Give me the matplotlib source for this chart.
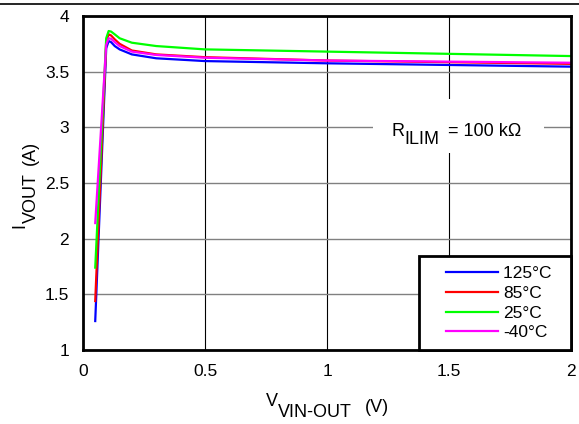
import matplotlib.pyplot as plt
from matplotlib.lines import Line2D
from matplotlib.patches import Rectangle
from matplotlib.legend_handler import HandlerLine2D

plt.rcParams['font.family'] = ['Liberation Sans', 'DejaVu Sans']

# current limit vs input-output voltage, one curve per temperature
v_drop = [0.05, 0.095, 0.105, 0.115, 0.13, 0.15, 0.2, 0.3, 0.5, 1.0, 1.5, 2.0]
i_125 = [1.26, 3.71, 3.775, 3.765, 3.73, 3.70, 3.655, 3.62, 3.595, 3.575, 3.56, 3.545]
i_85 = [1.44, 3.77, 3.835, 3.825, 3.79, 3.75, 3.69, 3.655, 3.63, 3.60, 3.585, 3.57]
i_25 = [1.74, 3.80, 3.865, 3.86, 3.835, 3.80, 3.76, 3.73, 3.70, 3.68, 3.66, 3.64]
i_m40 = [2.14, 3.74, 3.80, 3.795, 3.765, 3.73, 3.68, 3.65, 3.625, 3.60, 3.59, 3.58]

fig = plt.figure(figsize=(5.79, 4.24), dpi=100)
ax = fig.add_axes([0.1434, 0.1745, 0.8428, 0.7878])

ax.plot(v_drop, i_125, color='#0000ff', lw=1.6, label='125°C  ')
ax.plot(v_drop, i_85, color='#ff0000', lw=1.6, label='85°C')
ax.plot(v_drop, i_25, color='#00ff00', lw=1.6, label='25°C')
ax.plot(v_drop, i_m40, color='#ff00ff', lw=1.6, label='-40°C')

ax.set_xlim(0, 2)
ax.set_ylim(1, 4)
ax.set_xticks([0, 0.5, 1, 1.5, 2])
ax.set_xticklabels(['0', '0.5', '1', '1.5', '2'])
ax.set_yticks([1, 1.5, 2, 2.5, 3, 3.5, 4])
ax.set_yticklabels(['1', '1.5', '2', '2.5', '3', '3.5', '4'])
ax.tick_params(length=0, labelsize=12.5, pad=10)

ax.xaxis.grid(True, color='black', lw=0.8)
ax.yaxis.grid(True, color='#808080', lw=1.0)
ax.set_axisbelow(True)
for s in ax.spines.values():
    s.set_linewidth(2)

# R_ILIM note on a white patch over the grid
ax.add_patch(Rectangle((1.19, 2.765), 0.70, 0.485, facecolor='white', edgecolor='none', zorder=1.5))
ax.text(1.291, 2.96, 'R', fontsize=13, ha='center', va='center')
ax.text(1.39, 2.89, 'ILIM', fontsize=13, ha='center', va='center')
ax.text(1.645, 2.96, '= 100 kΩ', fontsize=13, ha='center', va='center')

# xpad leaves extra room left of the legend lines
leg = ax.legend(loc='lower right', bbox_to_anchor=(1, 0), borderaxespad=0,
                fontsize=12.5, handlelength=4.0, labelspacing=0.27, handletextpad=0.3,
                fancybox=False, edgecolor='black', framealpha=1, borderpad=0.55,
                handler_map={Line2D: HandlerLine2D(xpad=1.0)})
leg.get_frame().set_linewidth(2)

# axis labels with big subscripts
fig.text(0.034, 0.467, 'I', fontsize=13, rotation=90, ha='center', va='center')
fig.text(0.054, 0.533, 'VOUT', fontsize=13, rotation=90, ha='center', va='center')
fig.text(0.052, 0.639, '(A)', fontsize=13, rotation=90, ha='center', va='center')

fig.text(0.470, 0.052, 'V', fontsize=13, ha='center', va='center')
fig.text(0.544, 0.028, 'VIN-OUT', fontsize=13, ha='center', va='center')
fig.text(0.651, 0.040, '(V)', fontsize=13, ha='center', va='center')

fig.add_artist(Line2D([0, 1], [0.991, 0.991], color='black', lw=1.2, transform=fig.transFigure))

fig.savefig('out.png', dpi=100)
